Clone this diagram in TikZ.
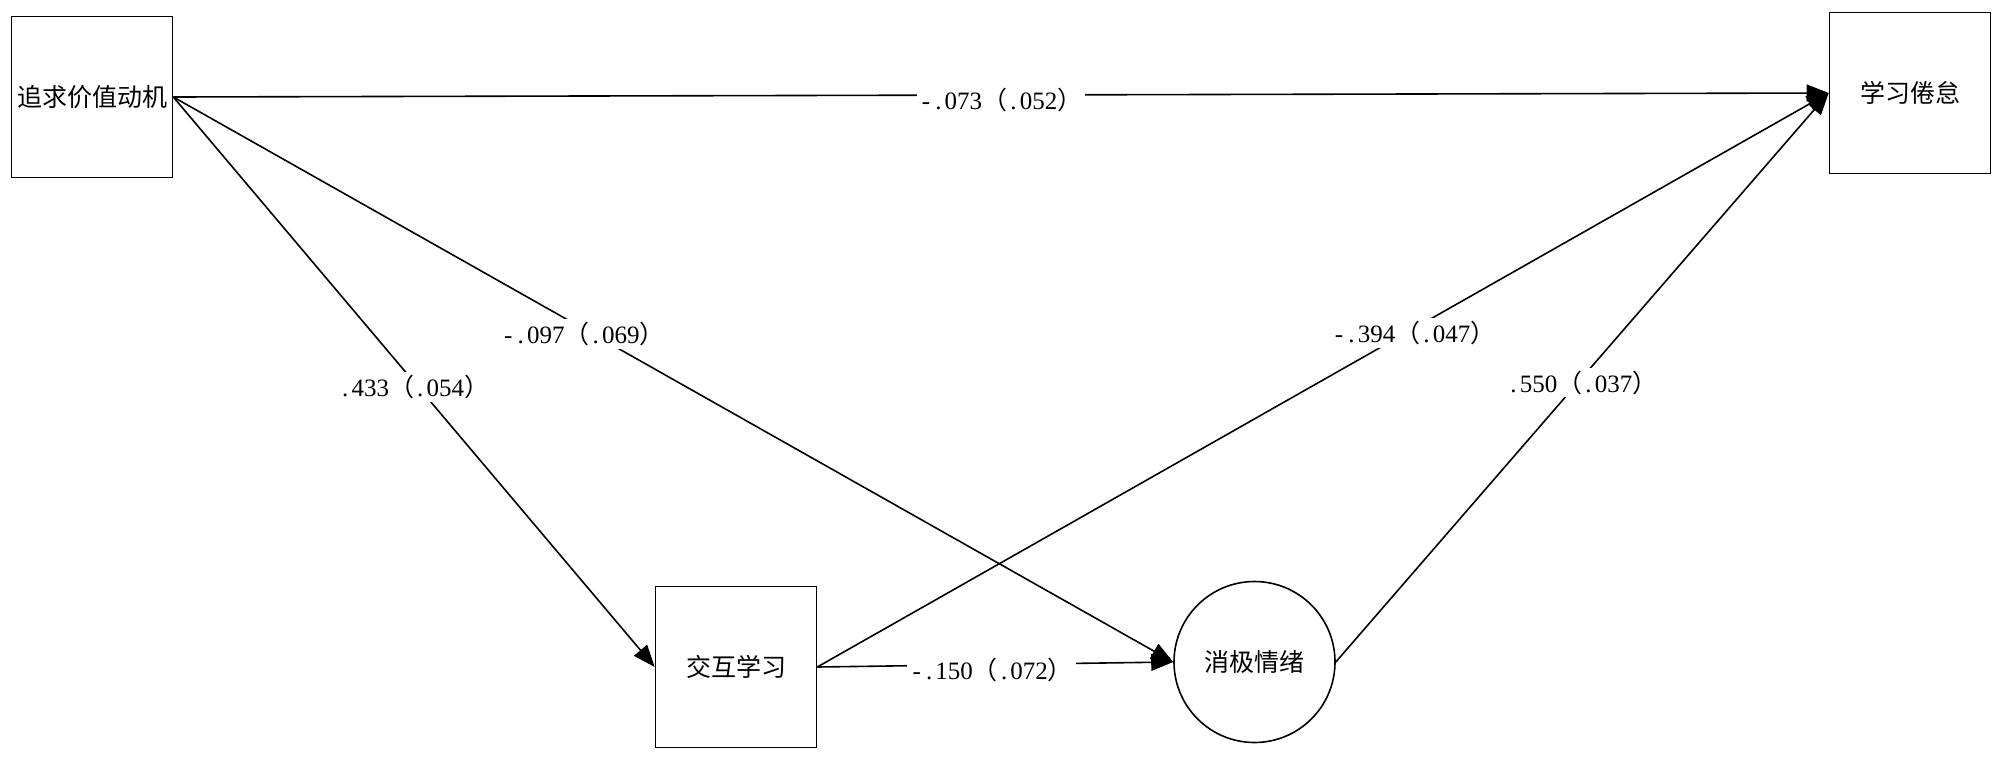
\documentclass[tikz,border=0pt]{standalone}
\usepackage{fontspec}
\setmainfont{Liberation Serif}
\newfontfamily\cjk{Noto Sans CJK SC}
\usetikzlibrary{arrows.meta}
\newcommand{\pd}{\makebox[0.5em]{.}}
\newcommand{\mn}{\makebox[0.5em]{-}}
\newcommand{\est}[2]{#1{\cjk （}#2{\cjk ）}}
\tikzset{
  var/.style={draw, line width=1.6pt, minimum width=161pt, minimum height=161pt, inner sep=0pt, font=\cjk\fontsize{25}{25}\selectfont},
  lat/.style={draw, circle, line width=1.6pt, minimum size=161pt, inner sep=0pt, font=\cjk\fontsize{25}{25}\selectfont},
  arr/.style={line width=1.6pt, -{Triangle[length=22pt,width=17pt]}},
  lbl/.style={fill=white, inner sep=3pt, yshift=-5pt, font=\fontsize{25}{25}\selectfont}
}
\begin{document}
\begin{tikzpicture}[x=1pt,y=-1pt]
\useasboundingbox (0,0) rectangle (2000,764);
\node[var] (A) at (92,97) {追求价值动机};
\node[var] (B) at (1910,93) {学习倦怠};
\node[var] (C) at (736,667) {交互学习};
\node[lat] (D) at (1254.5,662) {消极情绪};
\draw[arr] (A.east) -- node[lbl, pos=0.5] {\est{\mn\pd 073}{\pd 052}} (B.west);
\draw[arr] (A.east) -- node[lbl, pos=0.41] {\est{\mn\pd 097}{\pd 069}} (D.west);
\draw[arr] (A.east) -- node[lbl, pos=0.5] {\est{\pd 433}{\pd 054}} (C.west);
\draw[arr] (C.east) -- node[lbl, pos=0.59] {\est{\mn\pd 394}{\pd 047}} (B.west);
\draw[arr] (D.east) -- node[lbl, pos=0.5] {\est{\pd 550}{\pd 037}} (B.west);
\draw[arr] (C.east) -- node[lbl, pos=0.49] {\est{\mn\pd 150}{\pd 072}} (D.west);
\end{tikzpicture}
\end{document}
